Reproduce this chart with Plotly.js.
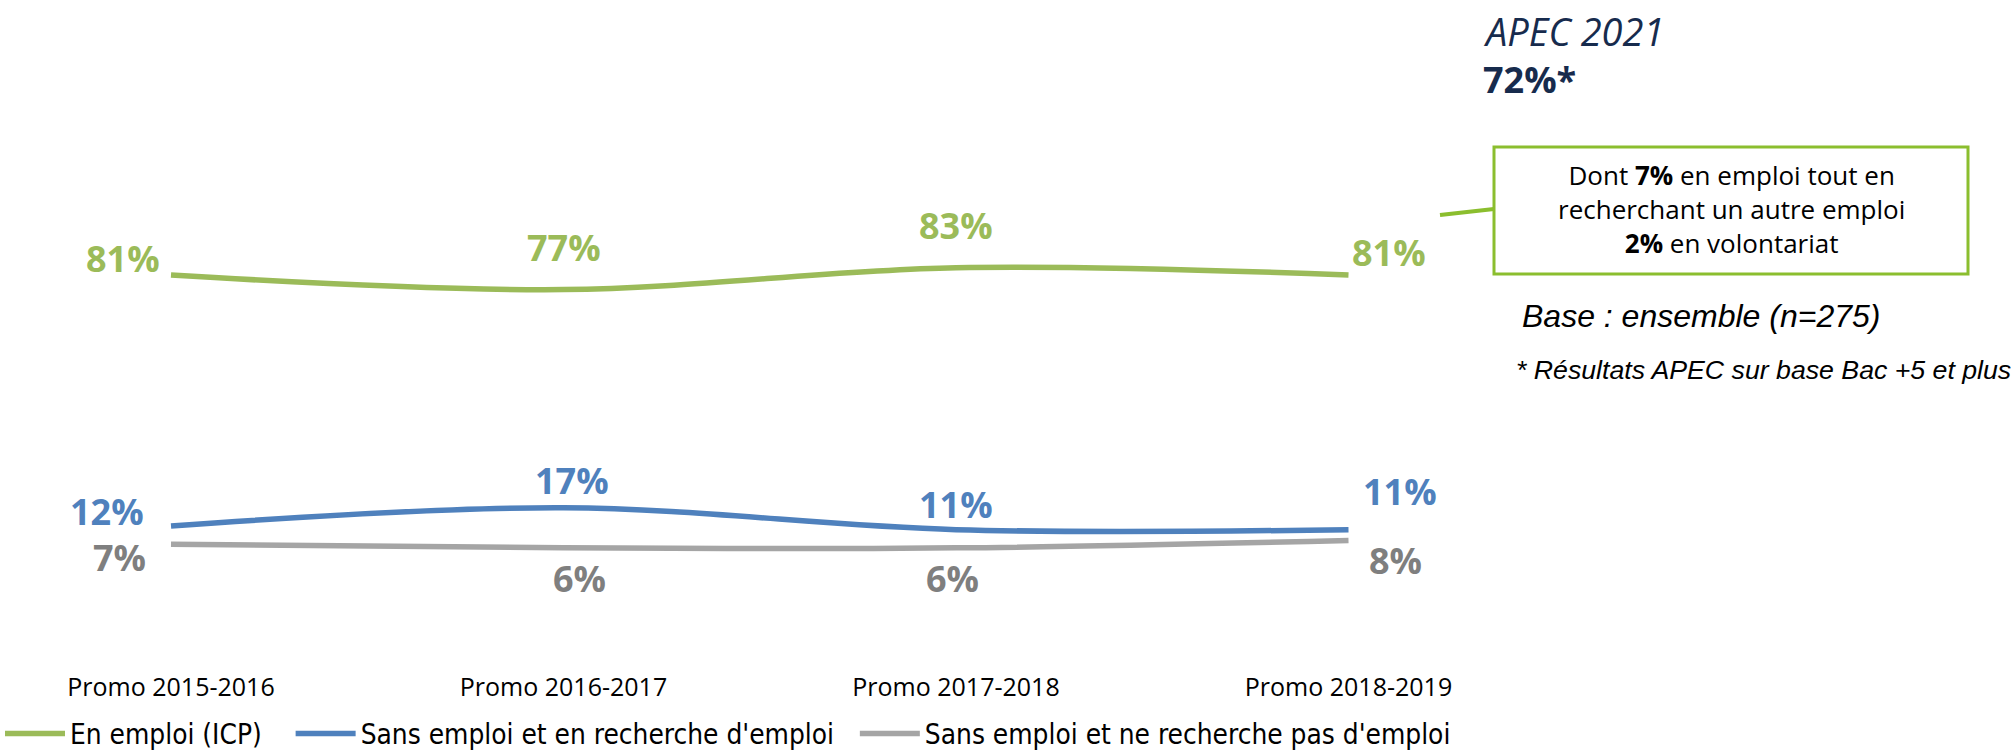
<!DOCTYPE html>
<html>
<head>
<meta charset="utf-8">
<script src="https://cdn.plot.ly/plotly-3.0.1.min.js"></script>
<style>html,body{margin:0;padding:0;background:#fff;}#chart{width:2012px;height:752px;}</style>
</head>
<body>
<div id="chart"></div>
<script>
// ---- data ----
const categories = ['Promo 2015-2016', 'Promo 2016-2017', 'Promo 2017-2018', 'Promo 2018-2019'];
const seriesNames = ['En emploi (ICP)', "Sans emploi et en recherche d'emploi", "Sans emploi et ne recherche pas d'emploi"];
const enEmploi = [81, 77, 83, 81];
const sansEmploiRecherche = [12, 17, 11, 11];
const sansEmploiPasRecherche = [7, 6, 6, 8];
const apecTitle = 'APEC 2021';
const apecValue = '72%*';
const boxLines = ['Dont <b>7%</b> en emploi tout en', 'recherchant un autre emploi', '<b>2%</b> en volontariat'];
const baseNote = 'Base : ensemble (n=275)';
const footNote = '* Résultats APEC sur base Bac +5 et plus';

// ---- styles ----
const W = 2012, H = 752;
const M = {l: 0, r: 0, t: 150, b: 82};
const lineColors = ['#9BBB59', '#4F81BD', '#A5A5A5'];
const labelColors = ['#9BBB59', '#4F81BD', '#7F7F7F'];
const labelFont = '"Open Sans", "Noto Sans", sans-serif';
// label placement per point: [xanchor, xshift, yshift]
const labelPlacement = [
  [['right', -9, 17], ['center', 0, 42], ['center', 0, 42], ['left', 1, 23]],
  [['right', -25, 15], ['center', 8, 27], ['center', 0, 25], ['left', 12, 38]],
  [['right', -23, -13], ['center', 16, -31], ['center', -4, -31], ['left', 18, -20]]
];
const legendPad = ['\u00a0\u00a0\u00a0', '\u00a0\u00a0', ''];

const pw = W - M.l - M.r, ph = H - M.t - M.b;
const px = x => (x - M.l) / pw;
const py = y => (H - M.b - y) / ph;

const allSeries = [enEmploi, sansEmploiRecherche, sansEmploiPasRecherche];
const traces = allSeries.map((vals, i) => ({
  type: 'scatter', mode: 'lines', x: categories, y: vals, name: seriesNames[i] + legendPad[i],
  line: {color: lineColors[i], width: 5.5, shape: 'spline', smoothing: 1},
  hoverinfo: 'skip', cliponaxis: false
}));

const annotations = [];
allSeries.forEach((vals, i) => {
  vals.forEach((v, j) => {
    const p = labelPlacement[i][j];
    annotations.push({
      x: categories[j], y: v, xref: 'x', yref: 'y', text: v + '%', showarrow: false,
      xanchor: p[0], yanchor: 'middle', xshift: p[1], yshift: p[2],
      font: {family: labelFont, size: 36, color: labelColors[i], weight: 700}
    });
  });
});
annotations.push({xref: 'paper', yref: 'paper', x: px(1481), y: py(31), xanchor: 'left', yanchor: 'middle',
  text: '<i>' + apecTitle + '</i>', showarrow: false, font: {family: labelFont, size: 38, color: '#172B4D'}});
annotations.push({xref: 'paper', yref: 'paper', x: px(1481), y: py(79), xanchor: 'left', yanchor: 'middle',
  text: '<b>' + apecValue + '</b>', showarrow: false, font: {family: labelFont, size: 36, color: '#172B4D'}});
annotations.push({xref: 'paper', yref: 'paper', x: px(1731), y: py(209), xanchor: 'center', yanchor: 'middle',
  text: boxLines.join('<br>'), align: 'center', showarrow: false, font: {family: labelFont, size: 26, color: '#000'}});
annotations.push({xref: 'paper', yref: 'paper', x: px(1520), y: py(316), xanchor: 'left', yanchor: 'middle',
  text: '<i>' + baseNote + '</i>', showarrow: false, font: {family: '"Liberation Sans", Arial, sans-serif', size: 32, color: '#000'}});
annotations.push({xref: 'paper', yref: 'paper', x: px(1514), y: py(370), xanchor: 'left', yanchor: 'middle',
  text: '<i>' + footNote + '</i>', showarrow: false, font: {family: '"Liberation Sans", Arial, sans-serif', size: 26.7, color: '#000'}});

const shapes = [
  {type: 'rect', xref: 'paper', yref: 'paper', x0: px(1494), x1: px(1968), y0: py(274), y1: py(147),
   line: {color: '#8BBE2E', width: 3}, fillcolor: 'rgba(0,0,0,0)'},
  {type: 'line', xref: 'paper', yref: 'paper', x0: px(1440), y0: py(215), x1: px(1494), y1: py(209),
   line: {color: '#8BBE2E', width: 4}}
];

// y scale: 0% at 569.7px, 100% at 205.9px
const perUnit = (569.7 - 205.9) / 100;
const yMax = (569.7 - M.t) / perUnit;
const yMin = -((H - M.b) - 569.7) / perUnit;
// x scale: first category at 171px, step 392.5px
const step = 392.5;
const xMin = -(171 - M.l) / step;
const xMax = (W - M.r - 171) / step;

const layout = {
  width: W, height: H, margin: M, paper_bgcolor: '#fff', plot_bgcolor: '#fff',
  showlegend: true,
  xaxis: {type: 'category', range: [xMin, xMax], showgrid: false, zeroline: false, showline: false,
    ticks: '', tickfont: {family: labelFont, size: 25, color: '#000'}, fixedrange: true},
  yaxis: {range: [yMin, yMax], visible: false, fixedrange: true},
  legend: {orientation: 'h', xref: 'container', yref: 'container', x: 0, y: 18 / H, xanchor: 'left', yanchor: 'middle',
    font: {family: '"DejaVu Sans Condensed", "Liberation Sans", sans-serif', size: 27.8, color: '#000'},
    itemwidth: 60, bgcolor: 'rgba(0,0,0,0)'},
  annotations: annotations, shapes: shapes
};

Plotly.newPlot('chart', traces, layout, {staticPlot: true, displayModeBar: false});
</script>
</body>
</html>
